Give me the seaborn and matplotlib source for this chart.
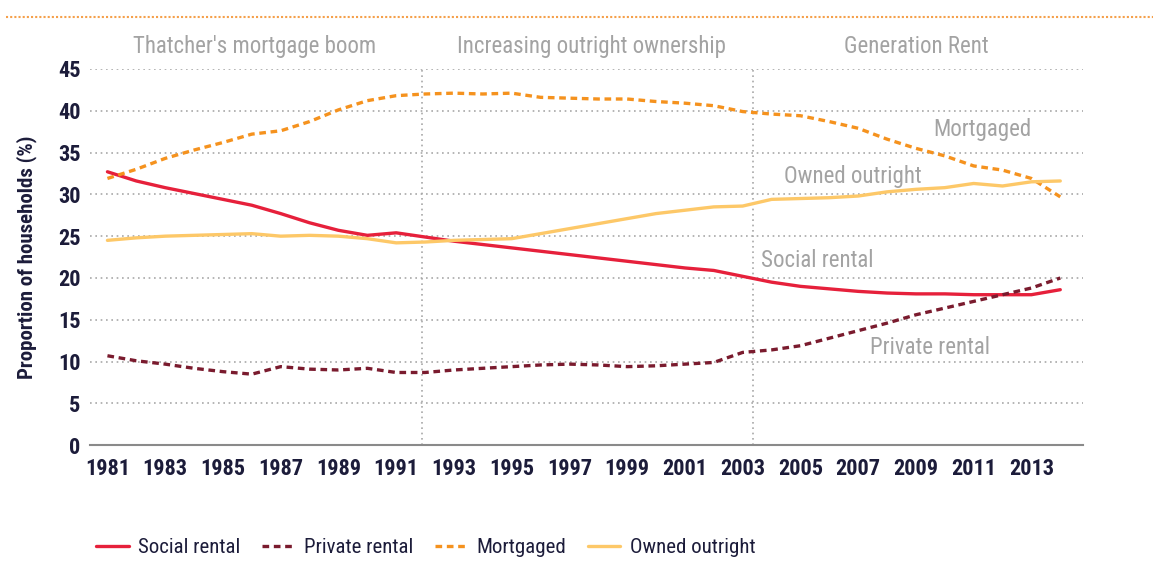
import matplotlib
matplotlib.use("Agg")
import matplotlib.pyplot as plt
from matplotlib.lines import Line2D
from matplotlib import font_manager
import seaborn as sns
import pandas as pd
import numpy as np

years = list(range(1981, 2015))
social_rental = [32.7, 31.6, 30.8, 30.1, 29.4, 28.7, 27.7, 26.6, 25.7, 25.1, 25.4, 24.9,
                 24.4, 24.0, 23.6, 23.2, 22.8, 22.4, 22.0, 21.6, 21.2, 20.9, 20.2, 19.5,
                 19.0, 18.7, 18.4, 18.2, 18.1, 18.1, 18.0, 18.0, 18.0, 18.6]
private_rental = [10.7, 10.1, 9.7, 9.2, 8.8, 8.5, 9.4, 9.1, 9.0, 9.2, 8.7, 8.7,
                  9.0, 9.2, 9.4, 9.6, 9.7, 9.6, 9.4, 9.5, 9.7, 9.9, 11.1, 11.4,
                  11.9, 12.8, 13.7, 14.6, 15.6, 16.4, 17.2, 18.0, 18.8, 20.0]
mortgaged = [31.9, 33.0, 34.3, 35.3, 36.2, 37.2, 37.6, 38.7, 40.1, 41.2, 41.8, 42.0,
             42.1, 42.0, 42.1, 41.6, 41.5, 41.4, 41.4, 41.1, 40.9, 40.6, 39.9, 39.6,
             39.4, 38.7, 37.9, 36.6, 35.5, 34.6, 33.4, 32.9, 31.9, 29.7]
owned_outright = [24.5, 24.8, 25.0, 25.1, 25.2, 25.3, 25.0, 25.1, 25.0, 24.7, 24.2, 24.3,
                  24.5, 24.6, 24.7, 25.3, 25.9, 26.5, 27.1, 27.7, 28.1, 28.5, 28.6, 29.4,
                  29.5, 29.6, 29.8, 30.3, 30.6, 30.8, 31.3, 31.0, 31.5, 31.6]

series_names = ["Social rental", "Private rental", "Mortgaged", "Owned outright"]
period_labels = ["Thatcher's mortgage boom", "Increasing outright ownership", "Generation Rent"]
tick_years = list(range(1981, 2014, 2))
y_ticks = [0, 5, 10, 15, 20, 25, 30, 35, 40, 45]

colors = {"Social rental": "#e6203b", "Private rental": "#7a1b2e",
          "Mortgaged": "#f5921e", "Owned outright": "#fdc868"}
dashes = {"Social rental": "", "Private rental": (2.0, 1.4),
          "Mortgaged": (2.0, 1.4), "Owned outright": ""}

df = pd.DataFrame({
    "year": years * 4,
    "value": social_rental + private_rental + mortgaged + owned_outright,
    "series": sum([[n] * len(years) for n in series_names], []),
})

sns.set_style("white")
available = {f.name for f in font_manager.fontManager.ttflist}
cands = ["Liberation Sans Narrow", "DejaVu Sans Condensed", "Roboto Condensed", "Roboto"]
fam = [c for c in cands if c in available][:1] + ["DejaVu Sans"]
plt.rcParams["font.family"] = fam

fig = plt.figure(figsize=(11.59, 5.79), dpi=100)
ax = fig.add_axes([0.078, 0.231, 0.856, 0.650])

sns.lineplot(data=df, x="year", y="value", hue="series", style="series",
             hue_order=series_names, style_order=series_names,
             palette=colors, dashes=dashes, linewidth=2.4, ax=ax, legend=False)

ax.set_xlim(1980.41, 2014.77)
ax.set_ylim(0, 45)
ax.set_xticks(tick_years)
ax.set_xticklabels([str(y) for y in tick_years])
ax.set_yticks(y_ticks)
ax.tick_params(axis="both", length=0, labelsize=16, colors="#1c1c3a")
ax.tick_params(axis="x", pad=9)
ax.tick_params(axis="y", pad=7)
for lab in ax.get_xticklabels() + ax.get_yticklabels():
    lab.set_fontweight("bold")
ax.set_xlabel("")
ax.set_ylabel("Proportion of households (%)", fontsize=15, color="#1c1c3a",
              fontweight="bold", labelpad=15)

ax.yaxis.grid(True, color="#a8a8a8", linestyle=(0, (1, 2.2)), linewidth=1.2)
ax.xaxis.grid(False)
for s in ["left", "right", "top"]:
    ax.spines[s].set_visible(False)
ax.spines["bottom"].set_color("#8a8a8a")
ax.spines["bottom"].set_linewidth(1.5)

for xv in [1991.9, 2003.35]:
    ax.axvline(xv, color="#a8a8a8", linestyle=(0, (1, 2.2)), linewidth=1.2, zorder=0)

gray = "#a3a3a3"
for txt, xv in zip(period_labels, [1986.1, 1997.75, 2009.0]):
    ax.text(xv, 47.7, txt, ha="center", va="center", fontsize=16.5, color=gray,
            clip_on=False)

inline = {"Mortgaged": (2011.3, 37.8), "Owned outright": (2006.8, 32.1),
          "Social rental": (2005.6, 22.1), "Private rental": (2009.5, 11.7)}
for name, (xv, yv) in inline.items():
    ax.text(xv, yv, name, ha="center", va="center", fontsize=16.5, color=gray)

fig.add_artist(Line2D([0.005, 0.995], [0.971, 0.971], transform=fig.transFigure,
                      color="#f5a04a", linestyle=(0, (1, 1)), linewidth=1.5))

handles = [Line2D([0], [0], color=colors[n], linewidth=2.4,
                  linestyle=(0, dashes[n]) if dashes[n] else "-") for n in series_names]
ax.legend(handles, series_names, loc="center left", bbox_to_anchor=(-0.013, -0.272),
          ncol=4, frameon=False, fontsize=15, handlelength=1.55, columnspacing=1.05,
          handletextpad=0.45, labelcolor="#1c1c3a")

fig.savefig("out.png", dpi=100)
